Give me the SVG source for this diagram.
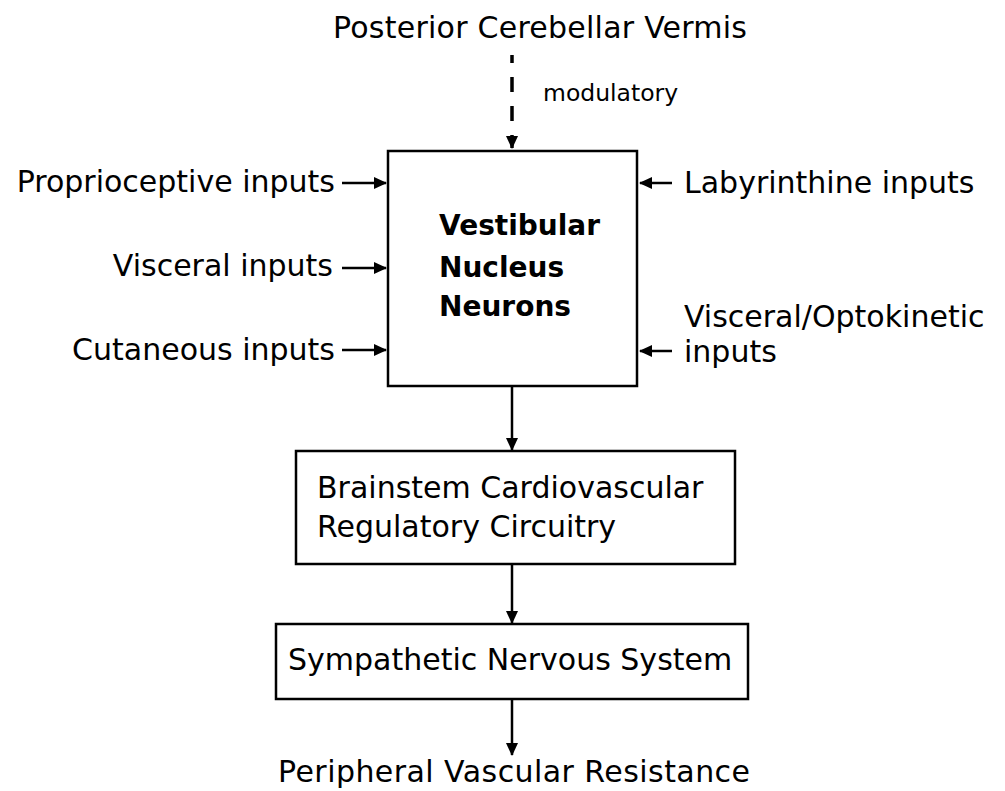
<svg xmlns="http://www.w3.org/2000/svg" width="1005" height="791" viewBox="0 0 1005 791">
<style>
text{font-family:"DejaVu Sans","Liberation Sans",sans-serif;fill:#000;font-size:30px}
.b{font-weight:bold;font-size:28px}
.s{font-size:23.5px}
.box{fill:#fff;stroke:#000;stroke-width:2.5}
.c{stroke:#000;stroke-width:2.5;fill:none}
.d{stroke-width:3.5}
</style>
<defs>
<marker id="ah" viewBox="0 0 13 12" refX="12" refY="6" markerWidth="13" markerHeight="12" markerUnits="userSpaceOnUse" orient="auto"><path d="M0,0 L13,6 L0,12 z" fill="#000"/></marker>
</defs>
<rect width="1005" height="791" fill="#fff"/>
<g id="connectors">
<path class="c d" d="M512,55 V148" stroke-dasharray="15,14" stroke-dashoffset="7" marker-end="url(#ah)"/>
<path class="c" d="M342,183 H386" marker-end="url(#ah)"/>
<path class="c" d="M342,268 H386" marker-end="url(#ah)"/>
<path class="c" d="M342,350 H386" marker-end="url(#ah)"/>
<path class="c" d="M672,183 H640" marker-end="url(#ah)"/>
<path class="c" d="M672,351 H640" marker-end="url(#ah)"/>
<path class="c" d="M512,387 V450" marker-end="url(#ah)"/>
<path class="c" d="M512,565 V623" marker-end="url(#ah)"/>
<path class="c" d="M512,700 V755" marker-end="url(#ah)"/>
</g>
<g id="vermis"><text x="333" y="38" textLength="414">Posterior Cerebellar Vermis</text></g>
<g id="modulatory-label"><text class="s" x="543" y="101">modulatory</text></g>
<g id="vestibular"><rect class="box" x="388" y="151" width="249" height="235"/>
<text class="b" x="439" y="235">Vestibular</text><text class="b" x="439" y="277">Nucleus</text><text class="b" x="439" y="316">Neurons</text></g>
<g id="proprioceptive"><text x="335" y="192" text-anchor="end">Proprioceptive inputs</text></g>
<g id="visceral"><text x="333" y="276" text-anchor="end">Visceral inputs</text></g>
<g id="cutaneous"><text x="335" y="360" text-anchor="end">Cutaneous inputs</text></g>
<g id="labyrinthine"><text x="684" y="193">Labyrinthine inputs</text></g>
<g id="visceral-optokinetic"><text x="684" y="327">Visceral/Optokinetic</text><text x="684" y="362">inputs</text></g>
<g id="brainstem"><rect class="box" x="296" y="451" width="439" height="113"/>
<text x="317" y="498">Brainstem Cardiovascular</text><text x="317" y="537">Regulatory Circuitry</text></g>
<g id="sympathetic"><rect class="box" x="276" y="624" width="472" height="75"/>
<text x="288" y="670">Sympathetic Nervous System</text></g>
<g id="pvr"><text x="278" y="782" textLength="472">Peripheral Vascular Resistance</text></g>
</svg>
